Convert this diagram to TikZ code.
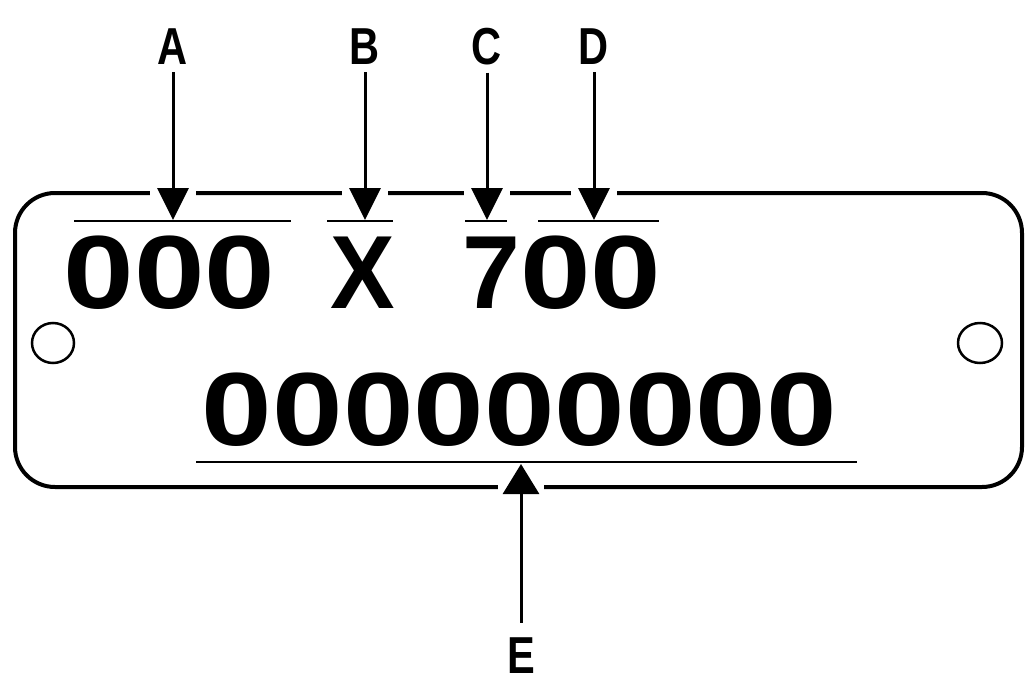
\documentclass[tikz,border=0pt]{standalone}
\usepackage{fontspec}
\setmainfont{Liberation Sans}
\usetikzlibrary{arrows.meta}
\begin{document}
\begin{tikzpicture}[x=1pt,y=-1pt,
  plate/.style={line width=4pt},
  hole/.style={line width=2.5pt},
  uline/.style={line width=2pt},
  arr/.style={line width=3pt,-{Triangle[width=31pt,length=32pt]}},
  lbl/.style={inner sep=0pt,font=\fontsize{52}{52}\selectfont\bfseries},
  big/.style={inner sep=0pt,font=\fontsize{104}{104}\selectfont\bfseries},
  gap/.style={fill=white}]
\useasboundingbox (0,0) rectangle (1026,691);
\fill[white] (0,0) rectangle (1026,691);
% plate
\draw[plate,rounded corners=40pt] (15,193) rectangle (1022,487);
\draw[hole] (53,343) ellipse [x radius=21, y radius=20];
\draw[hole] (980,343) ellipse [x radius=22, y radius=20];
% texts
\node[big] (g1) at (169.5,273) {\scalebox{1.22}[1]{000}};
\node[big] (gx) at (362.5,273) {\scalebox{0.93}[1]{X}};
\node[big] (g7) at (562,273) {\scalebox{1.0}[1]{7}\scalebox{1.22}[1]{00}};
\node[big] (g2) at (519.5,410) {\scalebox{1.22}[1]{000000000}};
% underlines
\draw[uline] (74,221) -- (291,221);
\draw[uline] (327,221) -- (393,221);
\draw[uline] (465,221) -- (507,221);
\draw[uline] (538,221) -- (659,221);
\draw[line width=2.5pt] (196,462) -- (857,462);
% labels
\node[lbl] (la) at (173,47) {\scalebox{0.8}[1]{A}};
\node[lbl] (lb) at (365,47) {\scalebox{0.8}[1]{B}};
\node[lbl] (lc) at (487,47) {\scalebox{0.8}[1]{C}};
\node[lbl] (ld) at (594,47) {\scalebox{0.8}[1]{D}};
\node[lbl] (le) at (521,656) {\scalebox{0.8}[1]{E}};
% tip coordinates
\coordinate (ta) at (173,220);
\coordinate (tb) at (365,220);
\coordinate (tc) at (487,220);
\coordinate (td) at (594,220);
\coordinate (te) at (521,464);
% gaps in the plate outline
\foreach \x in {173,365,487,594} \fill[gap] (\x-23,187) rectangle (\x+23,199);
\fill[gap] (521-23,481) rectangle (521+23,494);
% arrows
\draw[arr,shorten <=7pt] (la) -- (ta);
\draw[arr,shorten <=7pt] (lb) -- (tb);
\draw[arr,shorten <=7pt] (lc) -- (tc);
\draw[arr,shorten <=7pt] (ld) -- (td);
\draw[arr,-{Triangle[width=36pt,length=30pt]},shorten <=15pt] (le) -- (te);
\end{tikzpicture}
\end{document}
